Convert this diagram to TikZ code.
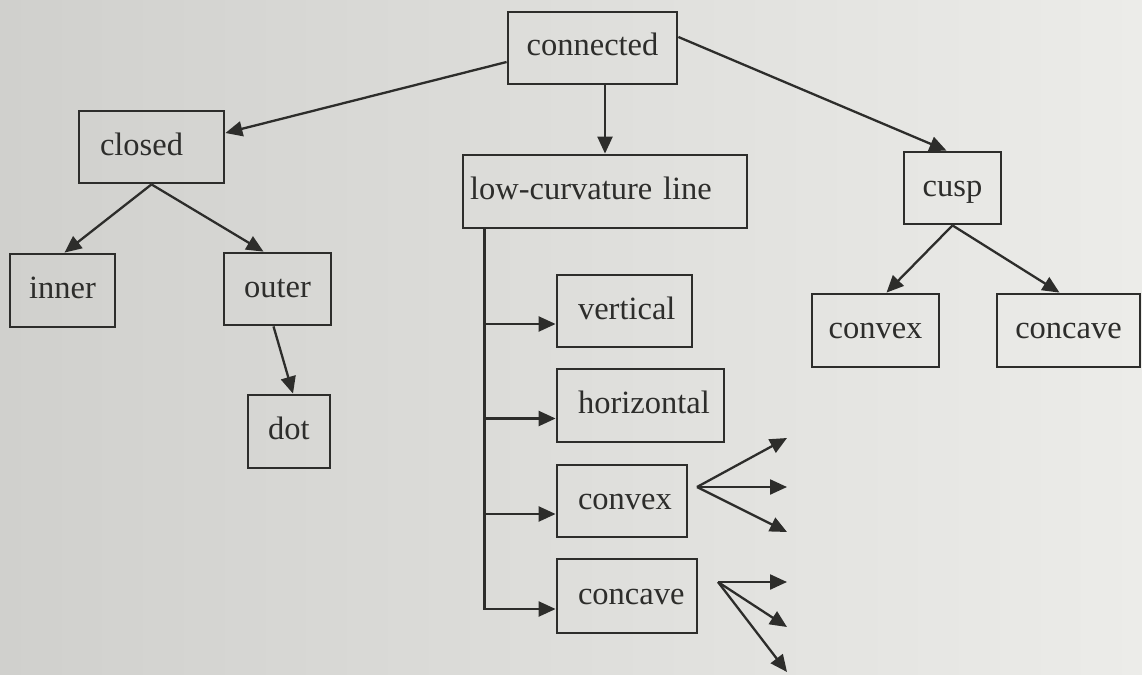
\documentclass[tikz,border=0pt]{standalone}
\usepackage{fontspec}
\setmainfont{Liberation Serif}
\usetikzlibrary{arrows.meta,calc}

\definecolor{paperL}{RGB}{208,208,205}
\definecolor{paperR}{RGB}{236,236,233}
\definecolor{ink}{RGB}{45,45,43}

\tikzset{
  box/.style={draw=ink, line width=2.8pt, rectangle, inner sep=0pt,
    text=ink, font=\fontsize{32.5}{38}\selectfont,
    text height=23pt, text depth=7pt},
  arr/.style={draw=ink, line width=2.3pt,
    -{Triangle[length=17pt,width=15pt]}},
}

\begin{document}
\begin{tikzpicture}[x=1pt,y=-1pt]
  % page background
  \shade[left color=paperL, right color=paperR] (0,0) rectangle (1142,674);
  \useasboundingbox (0,0) rectangle (1142,674);

  % top level
  \node[box, minimum width=169pt, minimum height=72pt] (conn) at (592.5,48) {connected};

  % left branch
  \node[box, minimum width=145pt, minimum height=72pt, text width=103pt, align=left] (closed) at (151.5,147) {closed};
  \node[box, minimum width=105pt, minimum height=73pt] (inner) at (62.5,290.5) {inner};
  \node[box, minimum width=107pt, minimum height=72pt] (outer) at (277.5,289) {outer};
  \node[box, minimum width=82pt, minimum height=73pt] (dot) at (289,431.5) {dot};

  % middle branch
  \node[box, minimum width=284pt, minimum height=73pt, text width=270pt, align=left] (lcl) at (605,191.5) {low-curvature line};
  \node[box, minimum width=135pt, minimum height=72pt, text width=93pt, align=left] (vert) at (624.5,311) {vertical};
  \node[box, minimum width=167pt, minimum height=73pt, text width=125pt, align=left] (horz) at (640.5,405.5) {horizontal};
  \node[box, minimum width=130pt, minimum height=72pt, text width=88pt, align=left] (mconvex) at (622,501) {convex};
  \node[box, minimum width=140pt, minimum height=74pt, text width=98pt, align=left] (mconcave) at (627,596) {concave};

  % right branch
  \node[box, minimum width=97pt, minimum height=72pt] (cusp) at (952.5,188) {cusp};
  \node[box, minimum width=127pt, minimum height=73pt] (cconvex) at (875.5,330.5) {convex};
  \node[box, minimum width=143pt, minimum height=73pt] (cconcave) at (1068.5,330.5) {concave};

  % connectors from the root
  \draw[arr] ([yshift=-14pt]conn.west) -- ([yshift=14pt]closed.east);
  \draw[arr] (conn.south -| lcl.north) -- (lcl.north);
  \draw[arr] ([yshift=11pt]conn.east) -- ([xshift=-6pt]cusp.north);

  % closed subtree
  \draw[arr] (closed.south) -- ([xshift=2pt]inner.north);
  \draw[arr] (closed.south) -- ([xshift=-14pt]outer.north);
  \draw[arr] ([xshift=-4pt]outer.south) -- ([xshift=4pt]dot.north);

  % cusp subtree
  \draw[arr] (cusp.south) -- ([xshift=11pt]cconvex.north);
  \draw[arr] (cusp.south) -- ([xshift=-9pt]cconcave.north);

  % trunk under the low-curvature line
  \coordinate (trunk) at ([xshift=23pt]lcl.south west);
  \draw[arr] (trunk) |- ([yshift=-13pt]vert.west);
  \draw[arr] (trunk) |- ([yshift=-13pt]horz.west);
  \draw[arr] (trunk) |- ([yshift=-13pt]mconvex.west);
  \draw[arr] (trunk) |- ([yshift=-13pt]mconcave.west);

  % open fans
  \coordinate (fanA) at (697,487);
  \coordinate (fanA1) at (787,438);
  \coordinate (fanA2) at (787,487);
  \coordinate (fanA3) at (787,532);
  \draw[arr] (fanA) -- (fanA1);
  \draw[arr] (fanA) -- (fanA2);
  \draw[arr] (fanA) -- (fanA3);

  \coordinate (fanB) at (718,582);
  \coordinate (fanB1) at (787,582);
  \coordinate (fanB2) at (787,627);
  \coordinate (fanB3) at (787,672);
  \draw[arr] (fanB) -- (fanB1);
  \draw[arr] (fanB) -- (fanB2);
  \draw[arr] (fanB) -- (fanB3);
\end{tikzpicture}
\end{document}
